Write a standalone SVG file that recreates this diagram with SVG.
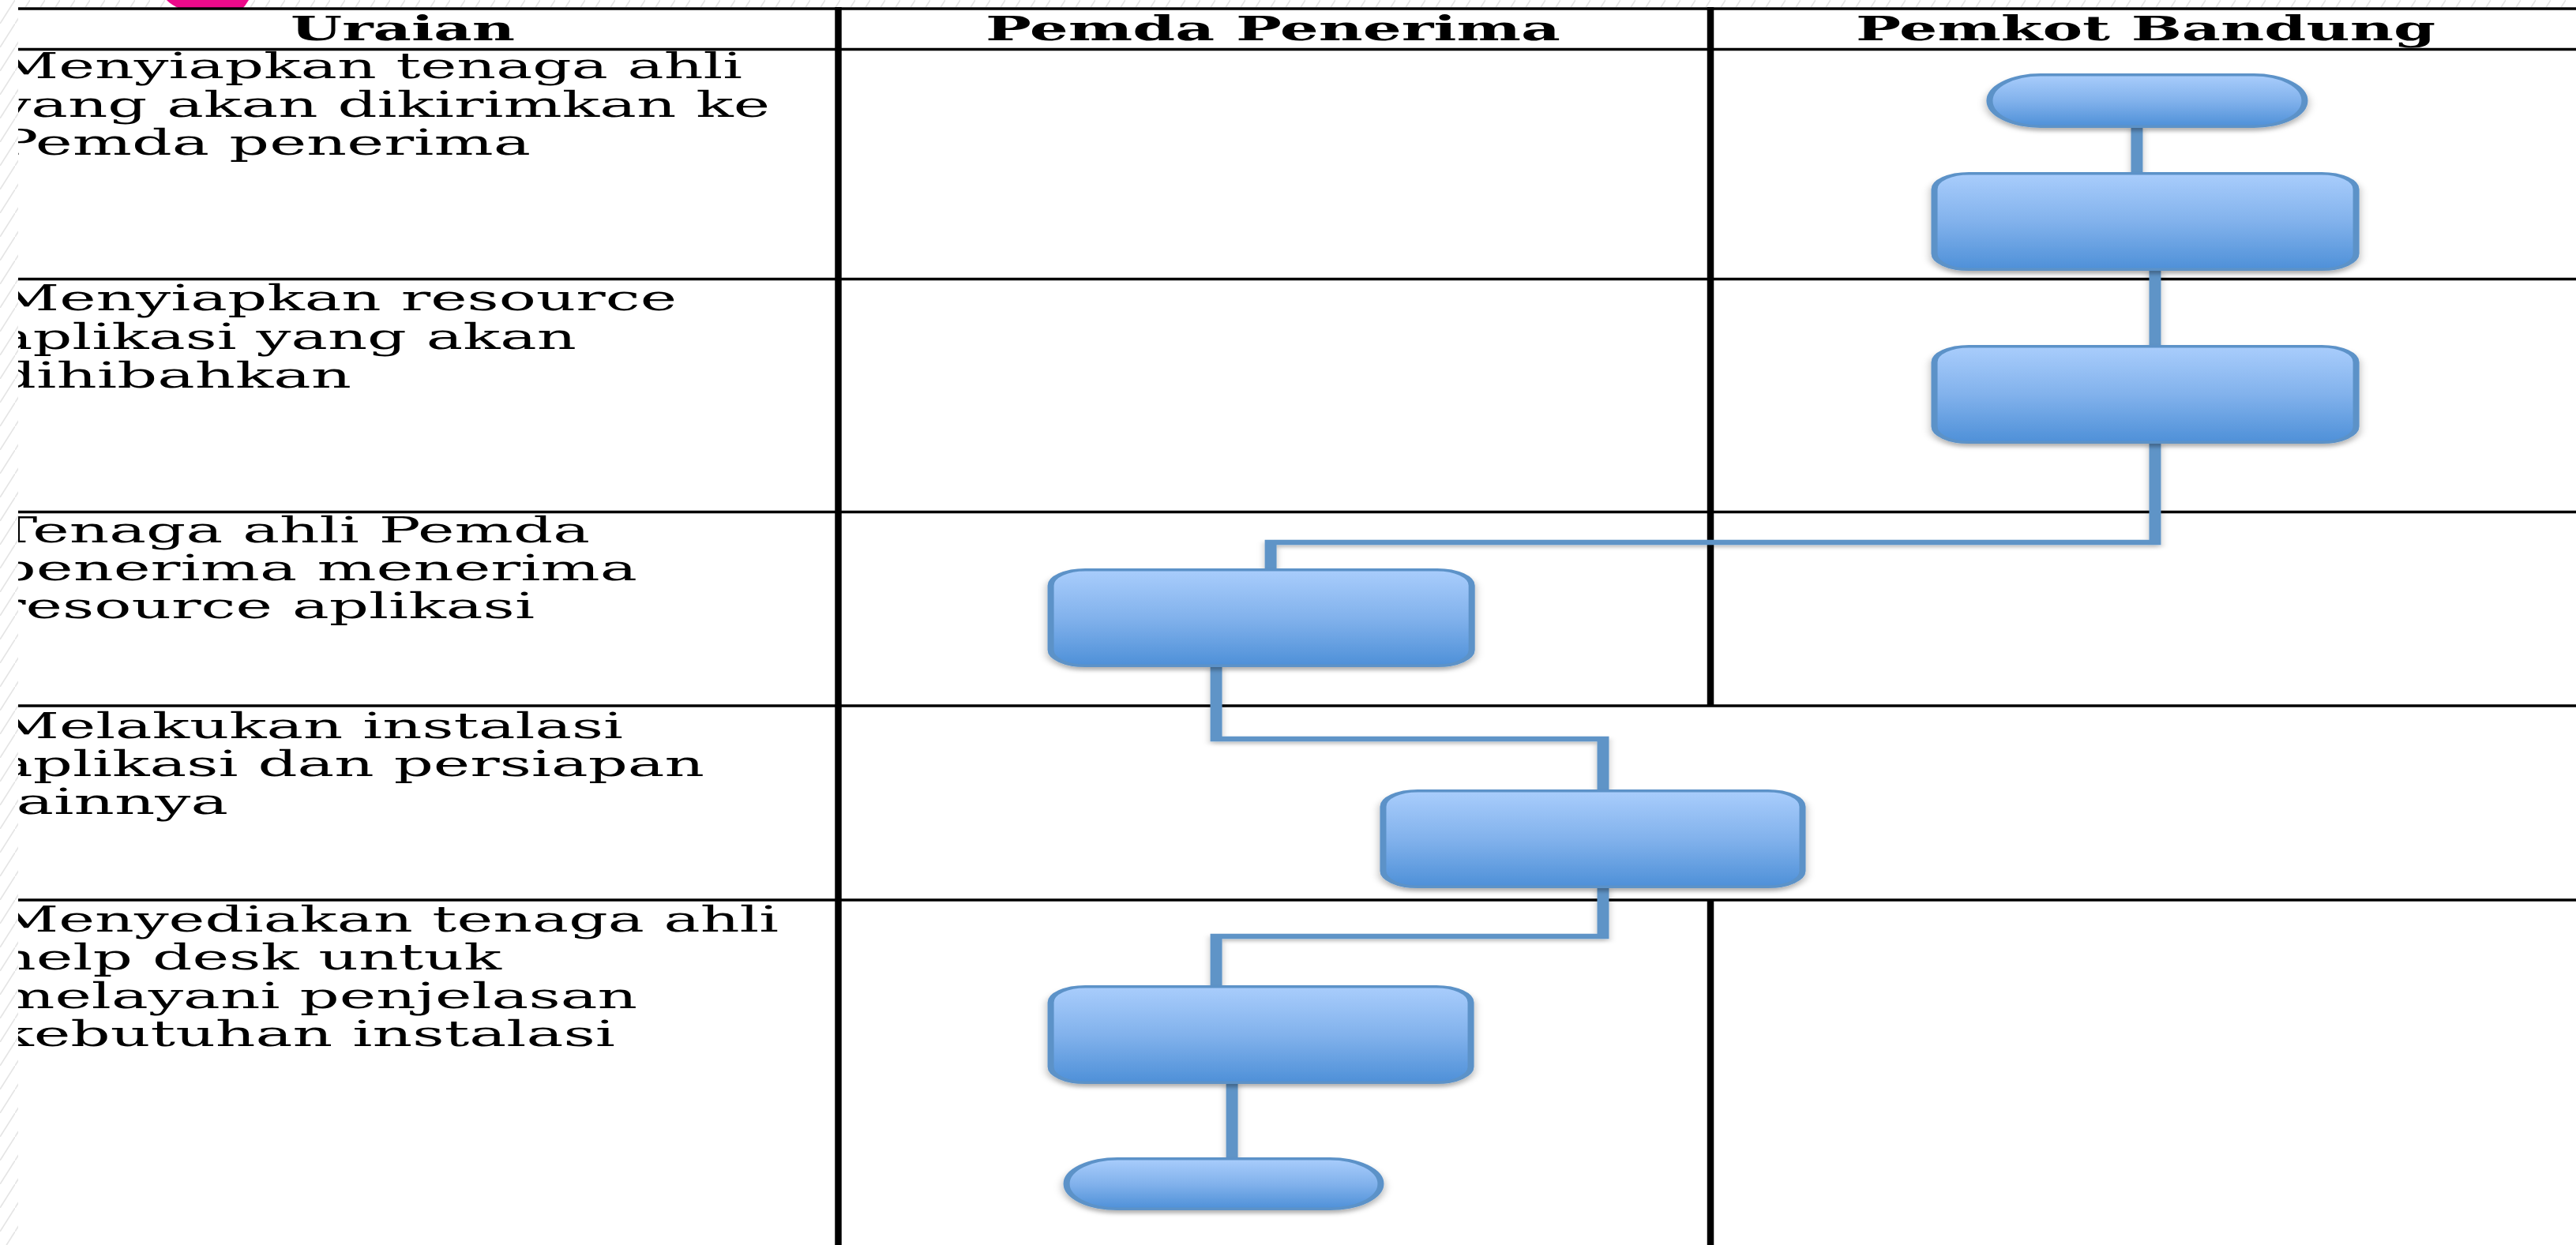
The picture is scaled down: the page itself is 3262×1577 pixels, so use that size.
<svg xmlns="http://www.w3.org/2000/svg" width="3262" height="1577" viewBox="0 0 3262 1577">
  <style>
    .hd { font-family: "DejaVu Serif", "Liberation Serif", serif; font-weight: bold; font-size: 42px; fill: #000; }
    .tx { font-family: "DejaVu Serif", "Liberation Serif", serif; font-size: 44px; fill: #000; }
    .hl { stroke: #000; stroke-width: 3.5; fill: none; }
    .vl { stroke: #000; stroke-width: 8.5; fill: none; }
    .node { fill: url(#blueGrad); stroke: #5c92c8; stroke-width: 3.5; filter: url(#shadow); }
    .conn { fill: none; stroke: #5f94c7; stroke-width: 6.5; stroke-linejoin: miter; stroke-linecap: butt; filter: url(#connShadow); }
  </style>
  <defs>
    <pattern id="hatch" patternUnits="userSpaceOnUse" width="19" height="30">
      <rect width="19" height="30" fill="#ffffff"/>
      <line x1="0" y1="30" x2="19" y2="0" stroke="#e4e4e4" stroke-width="1.6"/>
    </pattern>
    <linearGradient id="blueGrad" x1="0" y1="0" x2="0" y2="1">
      <stop offset="0" stop-color="#a9cdfc"/>
      <stop offset="0.5" stop-color="#82b2ec"/>
      <stop offset="1" stop-color="#4e90d8"/>
    </linearGradient>
    <filter id="shadow" x="-10%" y="-20%" width="120%" height="150%">
      <feDropShadow dx="0" dy="4" stdDeviation="2.5" flood-color="#000" flood-opacity="0.3"/>
    </filter>
    <filter id="connShadow" filterUnits="userSpaceOnUse" x="0" y="0" width="1500" height="1577">
      <feDropShadow dx="0" dy="3" stdDeviation="2" flood-color="#000" flood-opacity="0.25"/>
    </filter>
    <clipPath id="textClip">
      <rect x="23" y="0" width="1030" height="1577"/>
    </clipPath>
  </defs>

  <!-- background -->
  <rect x="0" y="0" width="3262" height="1577" fill="url(#hatch)"/>
  <rect x="23" y="9" width="3239" height="1568" fill="#ffffff"/>
  <path d="M211,0 H315 Q311,7 306,12 H230 Q216,6 211,0 Z" fill="#ec0a8a"/>

  <!-- table grid -->
  <g id="table">
    <line class="hl" x1="23" y1="11" x2="3262" y2="11"/>
    <line class="hl" x1="23" y1="62.5" x2="3262" y2="62.5"/>
    <line class="hl" x1="23" y1="353.5" x2="3262" y2="353.5"/>
    <line class="hl" x1="23" y1="648.5" x2="3262" y2="648.5"/>
    <line class="hl" x1="23" y1="894" x2="3262" y2="894"/>
    <line class="hl" x1="23" y1="1140" x2="3262" y2="1140"/>
    <line class="vl" x1="1061.5" y1="9" x2="1061.5" y2="1577"/>
    <line class="vl" x1="2166" y1="9" x2="2166" y2="894"/>
    <line class="vl" x1="2166" y1="1140" x2="2166" y2="1577"/>
  </g>

  <!-- headers -->
  <g id="headers">
    <text class="hd" x="368" y="51" textLength="284" lengthAdjust="spacingAndGlyphs">Uraian</text>
    <text class="hd" x="1248" y="51" textLength="728" lengthAdjust="spacingAndGlyphs">Pemda Penerima</text>
    <text class="hd" x="2350" y="51" textLength="734" lengthAdjust="spacingAndGlyphs">Pemkot Bandung</text>
  </g>

  <!-- row descriptions -->
  <g id="descriptions" clip-path="url(#textClip)">
    <text class="tx" x="-5" y="99" textLength="945" lengthAdjust="spacingAndGlyphs">Menyiapkan tenaga ahli</text>
    <text class="tx" x="-5" y="147.5" textLength="980" lengthAdjust="spacingAndGlyphs">yang akan dikirimkan ke</text>
    <text class="tx" x="-5" y="196" textLength="677" lengthAdjust="spacingAndGlyphs">Pemda penerima</text>

    <text class="tx" x="-5" y="393" textLength="862" lengthAdjust="spacingAndGlyphs">Menyiapkan resource</text>
    <text class="tx" x="-5" y="441.5" textLength="735" lengthAdjust="spacingAndGlyphs">aplikasi yang akan</text>
    <text class="tx" x="-5" y="490.5" textLength="450" lengthAdjust="spacingAndGlyphs">dihibahkan</text>

    <text class="tx" x="-5" y="687" textLength="752" lengthAdjust="spacingAndGlyphs">Tenaga ahli Pemda</text>
    <text class="tx" x="-5" y="735" textLength="812" lengthAdjust="spacingAndGlyphs">penerima menerima</text>
    <text class="tx" x="-5" y="783" textLength="682" lengthAdjust="spacingAndGlyphs">resource aplikasi</text>

    <text class="tx" x="-5" y="934.5" textLength="794" lengthAdjust="spacingAndGlyphs">Melakukan instalasi</text>
    <text class="tx" x="-5" y="983" textLength="897" lengthAdjust="spacingAndGlyphs">aplikasi dan persiapan</text>
    <text class="tx" x="-5" y="1031" textLength="294" lengthAdjust="spacingAndGlyphs">lainnya</text>

    <text class="tx" x="-5" y="1180" textLength="991" lengthAdjust="spacingAndGlyphs">Menyediakan tenaga ahli</text>
    <text class="tx" x="-5" y="1228" textLength="640" lengthAdjust="spacingAndGlyphs">help desk untuk</text>
    <text class="tx" x="-5" y="1276.5" textLength="812" lengthAdjust="spacingAndGlyphs">melayani penjelasan</text>
    <text class="tx" x="-5" y="1325" textLength="784" lengthAdjust="spacingAndGlyphs">kebutuhan instalasi</text>
  </g>

  <!-- flow drawn in a horizontally stretched frame (x * 2.3) -->
  <g id="flow" transform="scale(2.3 1)">
    <g id="connectors">
      <path class="conn" d="M1176.5,160 V220"/>
      <path class="conn" d="M1186.5,341 V439"/>
      <path class="conn" d="M1186.5,560 V687 H699.6 V722"/>
      <path class="conn" d="M669.6,843 V936 H882.6 V1002"/>
      <path class="conn" d="M882.6,1123 V1186 H669.6 V1250"/>
      <path class="conn" d="M678.3,1371 V1468"/>
    </g>
    <g id="start">
      <rect class="node" x="1095.4" y="94.7" width="173.5" height="65.6" rx="28" ry="32.8"/>
    </g>
    <g id="step1">
      <rect class="node" x="1065" y="219.7" width="232.2" height="121.6" rx="19" ry="20"/>
    </g>
    <g id="step2">
      <rect class="node" x="1065" y="438.7" width="232.2" height="121.6" rx="19" ry="20"/>
    </g>
    <g id="step3">
      <rect class="node" x="578.5" y="721.7" width="231.8" height="121.6" rx="19" ry="20"/>
    </g>
    <g id="step4">
      <rect class="node" x="761.5" y="1001.7" width="230.9" height="121.6" rx="19" ry="20"/>
    </g>
    <g id="step5">
      <rect class="node" x="578.5" y="1249.7" width="231.3" height="121.6" rx="19" ry="20"/>
    </g>
    <g id="end">
      <rect class="node" x="587.2" y="1467.7" width="173" height="63.6" rx="28" ry="31.8"/>
    </g>
  </g>
</svg>
